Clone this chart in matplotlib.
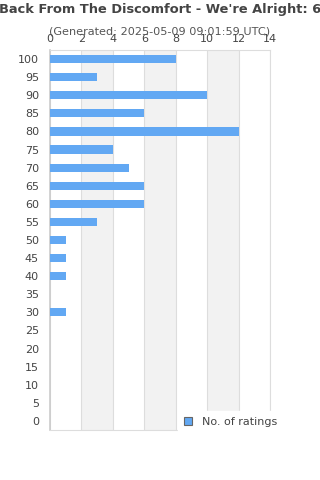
import matplotlib.pyplot as plt
from matplotlib.lines import Line2D

# --- Data ---
scores = [100, 95, 90, 85, 80, 75, 70, 65, 60, 55, 50, 45, 40, 35, 30, 25, 20, 15, 10, 5, 0]
ratings = [8, 3, 10, 6, 12, 4, 5, 6, 6, 3, 1, 1, 1, 0, 1, 0, 0, 0, 0, 0, 0]
x_ticks = [0, 2, 4, 6, 8, 10, 12, 14]

TITLE = "Back From The Discomfort - We're Alright: 6"
SUBTITLE = "(Generated: 2025-05-09 09:01:59 UTC)"
BAR_COLOR = "#62a8f3"
TEXT_COLOR = "#444444"

fig = plt.figure(figsize=(3.2, 4.8), dpi=100)
ax = fig.add_axes([50 / 320, 1 - 430 / 480, 220 / 320, 380 / 480])

ypos = list(range(len(scores)))
ax.barh(ypos, ratings, height=0.45, color=BAR_COLOR, zorder=3)

# alternating shaded bands
for i in range(0, len(x_ticks) - 1):
    if i % 2 == 1:
        ax.axvspan(x_ticks[i], x_ticks[i + 1], color="#f2f2f2", zorder=0, lw=0)

ax.set_xlim(0, 14)
ax.set_ylim(len(scores) - 0.5, -0.5)
ax.set_xticks(x_ticks)
ax.set_yticks(ypos)
ax.set_yticklabels([str(s) for s in scores])
ax.xaxis.tick_top()
ax.tick_params(axis="both", length=0, labelsize=8, colors=TEXT_COLOR)
ax.tick_params(axis="x", pad=4)
ax.tick_params(axis="y", pad=8)
ax.grid(axis="x", color="#dddddd", lw=0.8, zorder=1)
for side in ["top", "right", "bottom"]:
    ax.spines[side].set_color("#dddddd")
    ax.spines[side].set_linewidth(0.8)
ax.spines["left"].set_color("#cccccc")
ax.spines["left"].set_linewidth(1.2)

fig.text(0.5, 1 - 10 / 480, TITLE, ha="center", va="center", fontsize=9.4,
         fontweight="bold", color=TEXT_COLOR)
fig.text(0.5, 1 - 31 / 480, SUBTITLE, ha="center", va="center", fontsize=8.1,
         color="#555555")

handle = Line2D([], [], marker="s", linestyle="none", markersize=5.5,
                markerfacecolor=BAR_COLOR, markeredgecolor="#666666", markeredgewidth=0.8)
fig.legend([handle], ["No. of ratings"], loc="upper left",
           bbox_to_anchor=(178 / 320, 1 - 411 / 480), frameon=True, fontsize=8,
           facecolor="white", edgecolor="white", framealpha=1, fancybox=False,
           handlelength=0.8, handletextpad=0.9, borderpad=0.5, borderaxespad=0,
           labelcolor=TEXT_COLOR)

fig.savefig("out.png", dpi=100)
